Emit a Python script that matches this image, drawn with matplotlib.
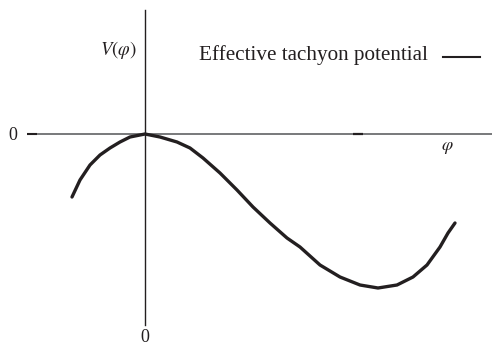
import matplotlib.pyplot as plt

# effective tachyon potential, sampled by hand (arbitrary units)
phi = [-0.73, -0.65, -0.55, -0.45, -0.35, -0.25, -0.15, -0.05, 0.0, 0.15,
       0.32, 0.45, 0.58, 0.75, 0.92, 1.08, 1.25, 1.42, 1.55, 1.75,
       1.95, 2.15, 2.33, 2.52, 2.68, 2.82, 2.95, 3.03, 3.10]
V = [-0.63, -0.46, -0.31, -0.21, -0.14, -0.08, -0.03, -0.01, 0.0, -0.03,
     -0.08, -0.14, -0.24, -0.39, -0.56, -0.73, -0.89, -1.04, -1.13, -1.31,
     -1.43, -1.51, -1.54, -1.51, -1.43, -1.31, -1.13, -0.99, -0.89]

plt.rcParams['font.family'] = 'Liberation Serif'
plt.rcParams['mathtext.fontset'] = 'stix'

fig = plt.figure(figsize=(4.95, 3.45), dpi=100)
ax = fig.add_axes([0, 0, 1, 1])
ax.set_xlim(-1.45, 3.50)
ax.set_ylim(-2.11, 1.34)
ax.axis('off')

ink = '#231f20'

# coordinate axes
ax.plot([-1.08, 3.47], [0, 0], color='#6d6e71', lw=1.3, solid_capstyle='butt')
ax.plot([-1.18, -1.08], [0, 0], color=ink, lw=1.5, solid_capstyle='butt')
ax.plot([2.08, 2.18], [0, 0], color=ink, lw=1.6, solid_capstyle='butt')
ax.plot([0, 0], [1.24, -1.91], color=ink, lw=1.0)

ax.plot(phi, V, color=ink, lw=2.4, solid_capstyle='round',
        solid_joinstyle='round', label='Effective tachyon potential')

ax.text(-1.32, -0.01, '0', fontsize=13, ha='center', va='center', color=ink)
ax.text(0, -2.03, '0', fontsize=13, ha='center', va='center', color=ink)
ax.text(-0.27, 0.84, r'$V(\varphi)$', fontsize=13.5, ha='center', va='center', color=ink)
ax.text(3.02, -0.13, r'$\varphi$', fontsize=13, ha='center', va='center', color=ink)

ax.text(2.83, 0.79, 'Effective tachyon potential', fontsize=15.2, ha='right',
        va='center', color=ink)
ax.plot([2.98, 3.35], [0.77, 0.77], color=ink, lw=1.5)

fig.savefig('out.png', dpi=100)
